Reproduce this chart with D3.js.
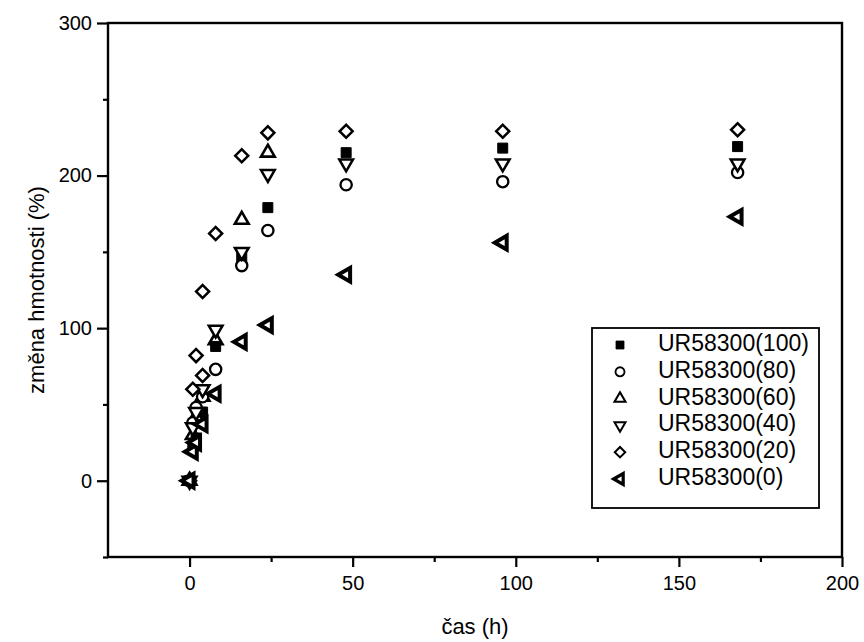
<!DOCTYPE html>
<html>
<head>
<meta charset="utf-8">
<script src="https://cdn.jsdelivr.net/npm/d3@7"></script>
<style>
body { margin: 0; background: #fff; }
text { font-family: "Liberation Sans", Arial, sans-serif; fill: #000; }
</style>
</head>
<body>
<svg width="864" height="642"></svg>
<script>
// time points (h) and weight change (%)
var hours = [0, 1, 2, 4, 8, 16, 24, 48, 96, 168];
var hours60 = [0, 1, 2, 4, 8, 16, 24];
var hours20 = [0, 1, 2, 4, 4, 8, 16, 24, 48, 96, 168];
var ur100 = [0, 22, 28, 45, 88, 146, 179, 215, 218, 219];
var ur80 = [0, 38, 48, 55, 73, 141, 164, 194, 196, 202];
var ur60 = [0, 30, 42, 55, 92, 171, 215];
var ur40 = [0, 35, 45, 60, 99, 150, 201, 208, 208, 208];
var ur20 = [0, 60, 82, 69, 124, 162, 213, 228, 229, 229, 230];
var ur0 = [0, 19, 25, 37, 57, 91, 102, 135, 156, 173];
var names = ["UR58300(100)", "UR58300(80)", "UR58300(60)", "UR58300(40)", "UR58300(20)", "UR58300(0)"];
var xTicks = [0, 50, 100, 150, 200];
var xMinor = [25, 75, 125, 175];
var yTicks = [0, 100, 200, 300];
var yMinor = [-50, 50, 150, 250];

var svg = d3.select("svg");
var pL = 108, pR = 842, pT = 23, pB = 557;

var x = d3.scaleLinear().domain([-25, 200]).range([pL, pR]);
var y = d3.scaleLinear().domain([-50, 300]).range([pB, pT]);

// symbol makers
var tri = d3.symbol().type(d3.symbolTriangle).size(82)();
var shapes = [
  {path: d3.symbol().type(d3.symbolSquare).size(100)(), rot: 0, fill: "#000", sw: 1},
  {path: d3.symbol().type(d3.symbolCircle).size(100)(), rot: 0, fill: "#fff", sw: 2.3},
  {path: tri, rot: 0, fill: "#fff", sw: 2.6},
  {path: tri, rot: 180, fill: "#fff", sw: 2.5},
  {path: d3.symbol().type(d3.symbolSquare).size(85)(), rot: 45, fill: "#fff", sw: 2.5},
  {path: tri, rot: -90, fill: "#fff", sw: 4}
];

var series = [
  {t: hours, v: ur100}, {t: hours, v: ur80}, {t: hours60, v: ur60},
  {t: hours, v: ur40}, {t: hours20, v: ur20}, {t: hours, v: ur0}
];

// frame
svg.append("rect")
  .attr("x", pL).attr("y", pT)
  .attr("width", pR - pL).attr("height", pB - pT)
  .attr("fill", "none").attr("stroke", "#000").attr("stroke-width", 2.4);

// axes
function styleAxis(g) {
  g.select(".domain").remove();
  g.selectAll("line").attr("stroke", "#000").attr("stroke-width", 2.2);
  g.selectAll("text").style("font-size", "20px");
}
svg.append("g").attr("transform", "translate(" + pL + ",0)")
  .call(d3.axisLeft(y).tickValues(yTicks).tickSize(11).tickPadding(5))
  .call(styleAxis);
svg.append("g").attr("transform", "translate(" + pL + ",0)")
  .call(d3.axisLeft(y).tickValues(yMinor).tickSize(5).tickFormat(""))
  .call(styleAxis);
svg.append("g").attr("transform", "translate(0," + pB + ")")
  .call(d3.axisBottom(x).tickValues(xTicks).tickSize(10).tickPadding(9))
  .call(styleAxis);
svg.append("g").attr("transform", "translate(0," + pB + ")")
  .call(d3.axisBottom(x).tickValues(xMinor).tickSize(5).tickFormat(""))
  .call(styleAxis);

// axis titles
svg.append("text")
  .attr("transform", "translate(38," + ((pT + pB) / 2) + ") rotate(-90)")
  .attr("text-anchor", "middle").attr("dominant-baseline", "middle")
  .style("font-size", "22px")
  .text("změna hmotnosti (%)");
svg.append("text")
  .attr("x", (pL + pR) / 2).attr("y", 628)
  .attr("text-anchor", "middle").attr("dominant-baseline", "middle")
  .style("font-size", "22px")
  .text("čas (h)");

// points: UR60 first so the squares sit on top of it
var order = [2, 0, 1, 3, 4, 5];
order.forEach(function(i) {
  var s = series[i], sh = shapes[i];
  svg.append("g").selectAll("path")
    .data(s.v.map(function(v, k) { return {t: s.t[k], v: v}; }))
    .enter().append("path")
    .attr("d", sh.path)
    .attr("transform", function(d) {
      return "translate(" + x(d.t) + "," + y(d.v) + ") rotate(" + sh.rot + ")";
    })
    .attr("fill", sh.fill)
    .attr("stroke", "#000")
    .attr("stroke-width", sh.sw)
    .attr("stroke-linejoin", "miter");
});

// legend
var lg = svg.append("g");
lg.append("rect")
  .attr("x", 592).attr("y", 328).attr("width", 227).attr("height", 180)
  .attr("fill", "#fff").attr("stroke", "#000").attr("stroke-width", 1.8);
names.forEach(function(n, i) {
  var ry = 345 + i * 26.8, sh = shapes[i];
  lg.append("path")
    .attr("d", sh.path)
    .attr("transform", "translate(620," + ry + ") rotate(" + sh.rot + ") scale(0.8)")
    .attr("fill", sh.fill).attr("stroke", "#000").attr("stroke-width", sh.sw);
  lg.append("text")
    .attr("x", 658).attr("y", ry)
    .attr("dominant-baseline", "middle")
    .style("font-size", "23px")
    .text(n);
});
</script>
</body>
</html>
